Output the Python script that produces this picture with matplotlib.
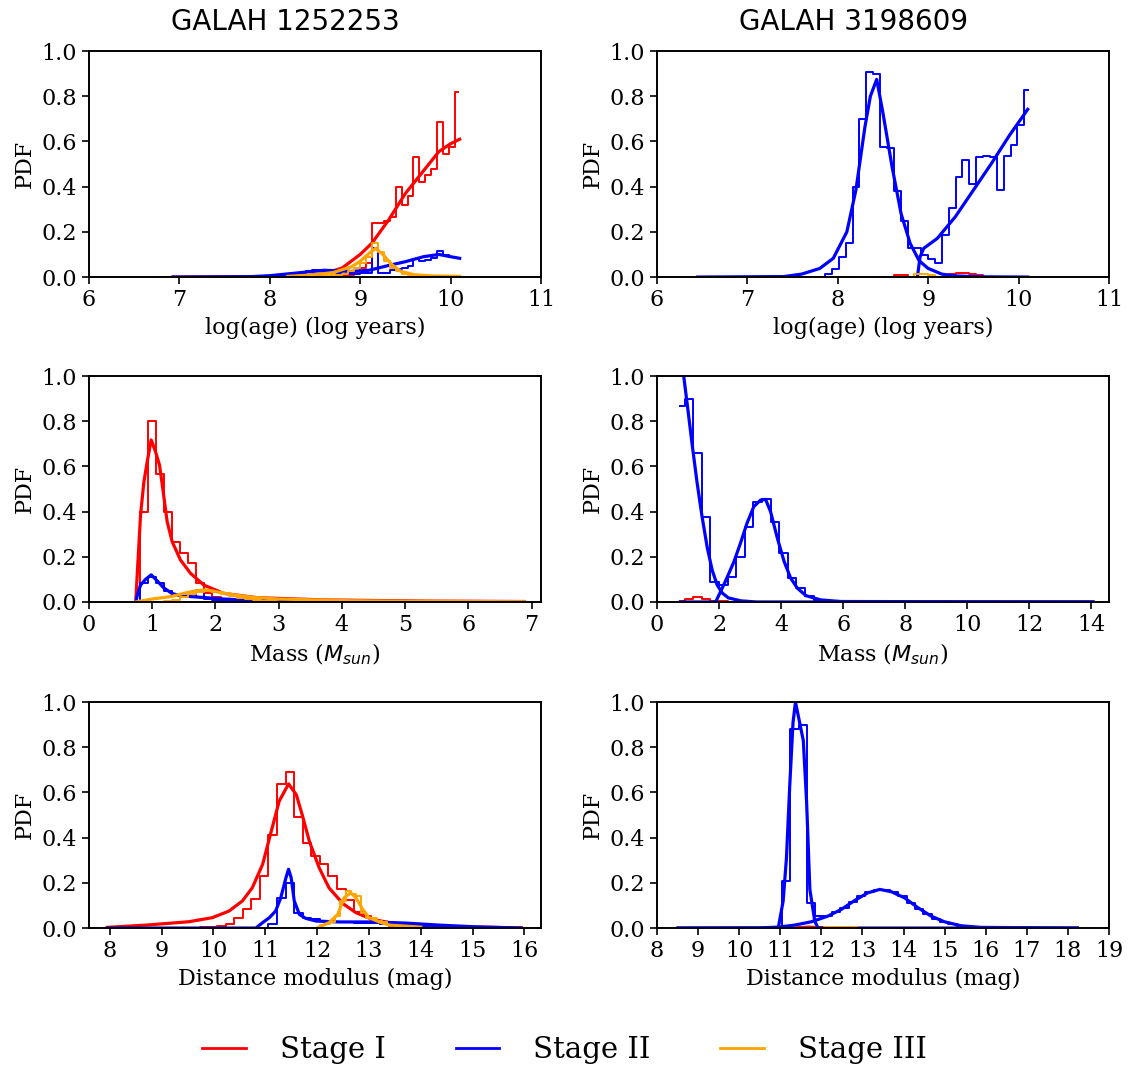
import numpy as np
import matplotlib
matplotlib.use('Agg')
import matplotlib.pyplot as plt
from matplotlib.lines import Line2D

plt.rcParams['font.family'] = 'DejaVu Serif'
plt.rcParams['mathtext.fontset'] = 'dejavusans'

STAGE_COLORS = {'I': 'red', 'II': 'blue', 'III': 'orange'}

# ---------------- GALAH 1252253, log(age) ----------------
age1_centres = (6.925, 10.083, 49)
age1_red_hist = [0] * 29 + [0.005, 0.01, 0.02, 0.04, 0.06, 0.237, 0.237, 0.25, 0.267, 0.397,
                            0.318, 0.36, 0.532, 0.42, 0.45, 0.48, 0.684, 0.544, 0.577, 0.82]
age1_blue_hist = [0] * 18 + [0.003, 0.006, 0.01, 0.015, 0.02, 0.025, 0.03, 0.03, 0.028, 0.025,
                             0.02, 0.015, 0.015, 0.015, 0.018, 0.02, 0.13, 0.02, 0.02, 0.03,
                             0.035, 0.04, 0.05, 0.078, 0.07, 0.075, 0.085, 0.117, 0.097, 0.09,
                             0.085]
age1_orange_hist = [0] * 26 + [0.005, 0.008, 0.01, 0.015, 0.025, 0.04, 0.06, 0.09, 0.15, 0.11,
                               0.07, 0.04, 0.025, 0.015, 0.01, 0.008, 0.005, 0.005, 0.005, 0.005,
                               0.005, 0.005, 0.005]
age1_red_fit_x = [6.93, 8.0, 8.4, 8.6, 8.8, 9.0, 9.13, 9.31, 9.5, 9.68, 9.87, 10.0, 10.1]
age1_red_fit_y = [0, 0.001, 0.006, 0.015, 0.04, 0.1, 0.15, 0.25, 0.37, 0.46, 0.555, 0.59, 0.61]
age1_blue_fit_x = [6.93, 7.8, 8.0, 8.3, 8.6, 8.9, 9.1, 9.3, 9.5, 9.7, 9.87, 10.0, 10.1]
age1_blue_fit_y = [0, 0.002, 0.006, 0.018, 0.03, 0.025, 0.03, 0.05, 0.068, 0.09, 0.1, 0.09, 0.083]
age1_orange_fit_x = [8.2, 8.5, 8.7, 8.9, 9.0, 9.1, 9.17, 9.25, 9.35, 9.45, 9.6, 9.8, 10.1]
age1_orange_fit_y = [0.003, 0.01, 0.02, 0.045, 0.07, 0.105, 0.127, 0.1, 0.055, 0.025, 0.01, 0.005, 0.003]

# ---------------- GALAH 3198609, log(age) ----------------
age2_centres = (6.454, 10.10, 49)
age2_blue_hist = [0] * 19 + [0.013, 0.034, 0.09, 0.149, 0.40, 0.70, 0.908, 0.90, 0.577, 0.572,
                             0.382, 0.25, 0.127, 0.127, 0.097, 0.078, 0.06, 0.186, 0.304, 0.444,
                             0.518, 0.41, 0.532, 0.535, 0.532, 0.385, 0.535, 0.584, 0.673, 0.83]
age2_red_hist = [0] * 29 + [0.01, 0.008, 0, 0, 0, 0, 0, 0, 0.012, 0.02, 0.018, 0.015, 0.008,
                            0, 0, 0, 0, 0, 0, 0]
age2_orange_hist = [0] * 32 + [0.015, 0.015, 0.01] + [0] * 14
age2_blue_fit1_x = [6.45, 7.4, 7.6, 7.8, 7.95, 8.1, 8.2, 8.3, 8.36, 8.43, 8.5, 8.6, 8.7, 8.8,
                    8.9, 9.0, 9.15, 9.3, 9.6, 10.1]
age2_blue_fit1_y = [0, 0.002, 0.013, 0.038, 0.083, 0.2, 0.385, 0.665, 0.80, 0.875, 0.724, 0.488,
                    0.28, 0.149, 0.072, 0.038, 0.013, 0.005, 0.001, 0]
age2_blue_fit2_x = [8.88, 8.91, 8.95, 9.1, 9.3, 9.5, 9.7, 9.9, 10.1]
age2_blue_fit2_y = [0, 0.09, 0.127, 0.171, 0.267, 0.385, 0.503, 0.628, 0.742]

# ---------------- GALAH 1252253, mass ----------------
mass1_centres = (0.737, 6.88, 49)
mass1_red_hist = [0, 0.397, 0.80, 0.565, 0.40, 0.267, 0.215, 0.174, 0.083, 0.04, 0.02, 0.012,
                  0.008, 0.006, 0.005, 0.004, 0.003, 0.003, 0.002, 0.002, 0.001] + [0] * 28
mass1_blue_hist = [0, 0.085, 0.11, 0.085, 0.05, 0.03, 0.02, 0.02, 0.055, 0.015, 0.01, 0.005,
                   0.003] + [0] * 36
mass1_orange_hist = [0, 0, 0, 0, 0.005, 0.01, 0.02, 0.035, 0.045, 0.05, 0.045, 0.035, 0.025,
                     0.018, 0.012, 0.008, 0.005, 0.003] + [0] * 31
mass1_red_fit_x = [0.74, 0.763, 0.816, 0.868, 0.921, 0.984, 1.053, 1.116, 1.174, 1.237, 1.316,
                   1.447, 1.605, 1.816, 2.13, 2.66, 3.71, 5.29, 6.88]
mass1_red_fit_y = [0, 0.12, 0.385, 0.53, 0.62, 0.717, 0.665, 0.606, 0.488, 0.355, 0.267, 0.186,
                   0.127, 0.075, 0.038, 0.019, 0.009, 0.004, 0.002]
mass1_blue_fit_x = [0.74, 0.765, 0.816, 0.895, 0.984, 1.08, 1.18, 1.31, 1.45, 1.6, 1.8, 2.13,
                    2.66, 3.5, 6.88]
mass1_blue_fit_y = [0, 0.03, 0.075, 0.10, 0.12, 0.093, 0.063, 0.038, 0.027, 0.024, 0.02, 0.013,
                    0.006, 0.002, 0]
mass1_orange_fit_x = [0.74, 1.0, 1.3, 1.5, 1.7, 1.85, 2.0, 2.3, 2.6, 3.0, 4.0, 5.0, 6.88]
mass1_orange_fit_y = [0, 0.013, 0.024, 0.038, 0.05, 0.053, 0.046, 0.031, 0.02, 0.013, 0.006,
                      0.003, 0.001]

# ---------------- GALAH 3198609, mass ----------------
mass2_centres = (0.754, 14.05, 49)
mass2_blue_hist = [0.869, 0.898, 0.658, 0.378, 0.09, 0.075, 0.112, 0.2, 0.333, 0.444, 0.456,
                   0.355, 0.218, 0.108, 0.06, 0.027, 0.01, 0.005, 0.002] + [0] * 30
mass2_red_hist = [0.003, 0.012, 0.024, 0.013, 0.006, 0.003, 0.002] + [0] * 42
mass2_blue_fit1_x = [0.754, 0.86, 0.97, 1.13, 1.29, 1.45, 1.62, 1.78, 1.94, 2.1, 2.3, 2.7, 3.2,
                     14.05]
mass2_blue_fit1_y = [1.08, 1.0, 0.88, 0.70, 0.53, 0.38, 0.24, 0.14, 0.075, 0.04, 0.018, 0.005,
                     0, 0]
mass2_blue_fit2_x = [0.754, 1.89, 2.05, 2.2, 2.48, 2.69, 2.9, 3.12, 3.34, 3.5, 3.66, 3.88, 4.1,
                     4.31, 4.53, 4.8, 5.28, 5.93, 14.05]
mass2_blue_fit2_y = [0, 0, 0.046, 0.09, 0.178, 0.26, 0.348, 0.422, 0.451, 0.454, 0.4, 0.282,
                     0.178, 0.105, 0.06, 0.028, 0.009, 0.002, 0]

# ---------------- GALAH 1252253, distance modulus ----------------
dm1_centres = (8.0, 15.944, 49)
dm1_red_hist = [0] * 10 + [0.002, 0.003, 0.005, 0.008, 0.016, 0.046, 0.083, 0.127, 0.23, 0.414,
                           0.638, 0.692, 0.49, 0.377, 0.318, 0.285, 0.23, 0.171, 0.122, 0.07,
                           0.053, 0.031, 0.019, 0.01, 0.006, 0.004, 0.003, 0.002] + [0] * 11
dm1_blue_hist = [0] * 19 + [0.02, 0.134, 0.2, 0.068, 0.045, 0.038, 0.03, 0.028, 0.027, 0.025,
                            0.024, 0.023, 0.022, 0.02, 0.018, 0.016, 0.013, 0.01, 0.008, 0.006,
                            0.004, 0.003, 0.002] + [0] * 7
dm1_orange_centres = (12.0, 13.4, 15)
dm1_orange_hist = [0, 0.012, 0.018, 0.025, 0.053, 0.12, 0.164, 0.15, 0.142, 0.068, 0.046,
                   0.046, 0.031, 0.025, 0.015]
dm1_red_fit_x = [7.955, 8.7, 9.53, 9.98, 10.3, 10.56, 10.75, 10.95, 11.1, 11.27, 11.45, 11.6,
                 11.72, 11.85, 12.04, 12.23, 12.5, 12.75, 13.07, 13.52, 14.04, 15.0, 15.94]
dm1_red_fit_y = [0.003, 0.013, 0.028, 0.046, 0.075, 0.12, 0.178, 0.282, 0.414, 0.562, 0.638,
                 0.59, 0.496, 0.385, 0.267, 0.178, 0.108, 0.068, 0.038, 0.019, 0.01, 0.004, 0.001]
dm1_blue_fit_x = [7.955, 10.82, 10.95, 11.08, 11.2, 11.3, 11.4, 11.45, 11.5, 11.56, 11.66, 11.78,
                  11.98, 12.43, 13.07, 13.71, 14.36, 15.0, 15.94]
dm1_blue_fit_y = [0, 0, 0.024, 0.046, 0.075, 0.134, 0.223, 0.26, 0.223, 0.12, 0.06, 0.043,
                  0.031, 0.027, 0.027, 0.022, 0.013, 0.006, 0]
dm1_orange_fit_x = [12.0, 12.23, 12.4, 12.52, 12.65, 12.75, 12.88, 13.0, 13.2, 13.4, 14.0]
dm1_orange_fit_y = [0, 0.024, 0.06, 0.134, 0.156, 0.134, 0.083, 0.046, 0.027, 0.013, 0.004]

# ---------------- GALAH 3198609, distance modulus ----------------
dm2_centres = (8.51, 18.23, 49)
dm2_blue_hist = [0] * 12 + [0.005, 0.208, 0.879, 0.898, 0.112, 0.053, 0.053, 0.072, 0.09, 0.115,
                            0.14, 0.158, 0.168, 0.168, 0.158, 0.14, 0.112, 0.085, 0.06, 0.04,
                            0.028, 0.018, 0.01, 0.005, 0.003, 0.002] + [0] * 11
dm2_red_hist = [0] * 15 + [0.003, 0.005, 0.003] + [0] * 31
dm2_orange_hist = [0] * 18 + [0.003, 0.004, 0.004, 0.003] + [0] * 27
dm2_blue_fit1_x = [8.51, 10.95, 11.07, 11.15, 11.23, 11.31, 11.37, 11.56, 11.64, 11.72, 11.84,
                   11.92, 18.23]
dm2_blue_fit1_y = [0, 0, 0.12, 0.31, 0.63, 0.91, 1.0, 0.83, 0.56, 0.17, 0.03, 0, 0]
dm2_blue_fit2_x = [8.51, 10.5, 10.95, 11.35, 11.76, 12.16, 12.49, 12.81, 13.13, 13.42, 13.7,
                   14.02, 14.35, 14.67, 14.99, 15.4, 15.88, 18.23]
dm2_blue_fit2_y = [0, 0.001, 0.004, 0.013, 0.028, 0.053, 0.083, 0.122, 0.156, 0.171, 0.161,
                   0.134, 0.09, 0.053, 0.028, 0.01, 0.003, 0]
dm2_red_fit_x = [11.4, 11.7, 12.0]
dm2_red_fit_y = [0.001, 0.004, 0.001]


def centres(spec):
    lo, hi, n = spec
    return np.linspace(lo, hi, n)


def draw_hist(ax, spec, heights, color):
    ax.step(centres(spec), heights, where='mid', color=color, lw=1.4)


def draw_fit(ax, xs, ys, color):
    ax.plot(xs, ys, color=color, lw=2.3)


fig = plt.figure(figsize=(11.45, 10.78), dpi=100)
lefts = [0.0777, 0.5738]
bottoms = [0.7430, 0.4416, 0.1391]
axes = [[fig.add_axes([l, b, 0.3948, 0.2096]) for l in lefts] for b in bottoms]

# row 1: age
ax = axes[0][0]
draw_hist(ax, age1_centres, age1_red_hist, 'red')
draw_fit(ax, age1_red_fit_x, age1_red_fit_y, 'red')
draw_hist(ax, age1_centres, age1_blue_hist, 'blue')
draw_fit(ax, age1_blue_fit_x, age1_blue_fit_y, 'blue')
draw_hist(ax, age1_centres, age1_orange_hist, 'orange')
draw_fit(ax, age1_orange_fit_x, age1_orange_fit_y, 'orange')

ax = axes[0][1]
draw_hist(ax, age2_centres, age2_red_hist, 'red')
draw_hist(ax, age2_centres, age2_blue_hist, 'blue')
draw_fit(ax, age2_blue_fit1_x, age2_blue_fit1_y, 'blue')
draw_fit(ax, age2_blue_fit2_x, age2_blue_fit2_y, 'blue')
draw_hist(ax, age2_centres, age2_orange_hist, 'orange')

for ax in axes[0]:
    ax.set_xlim(6, 11)
    ax.set_xlabel('log(age) (log years)')

# row 2: mass
ax = axes[1][0]
draw_hist(ax, mass1_centres, mass1_red_hist, 'red')
draw_fit(ax, mass1_red_fit_x, mass1_red_fit_y, 'red')
draw_hist(ax, mass1_centres, mass1_blue_hist, 'blue')
draw_fit(ax, mass1_blue_fit_x, mass1_blue_fit_y, 'blue')
draw_hist(ax, mass1_centres, mass1_orange_hist, 'orange')
draw_fit(ax, mass1_orange_fit_x, mass1_orange_fit_y, 'orange')
ax.set_xlim(0, 7.15)
ax.set_xticks(np.arange(0, 8, 1))

ax = axes[1][1]
draw_hist(ax, mass2_centres, mass2_red_hist, 'red')
draw_hist(ax, mass2_centres, mass2_blue_hist, 'blue')
draw_fit(ax, mass2_blue_fit1_x, mass2_blue_fit1_y, 'blue')
draw_fit(ax, mass2_blue_fit2_x, mass2_blue_fit2_y, 'blue')
ax.set_xlim(0, 14.57)
ax.set_xticks(np.arange(0, 15, 2))

for ax in axes[1]:
    ax.set_xlabel('Mass ($M_{sun}$)')

# row 3: distance modulus
ax = axes[2][0]
draw_hist(ax, dm1_centres, dm1_red_hist, 'red')
draw_fit(ax, dm1_red_fit_x, dm1_red_fit_y, 'red')
draw_hist(ax, dm1_centres, dm1_blue_hist, 'blue')
draw_fit(ax, dm1_blue_fit_x, dm1_blue_fit_y, 'blue')
draw_hist(ax, dm1_orange_centres, dm1_orange_hist, 'orange')
draw_fit(ax, dm1_orange_fit_x, dm1_orange_fit_y, 'orange')
ax.set_xlim(7.6, 16.32)
ax.set_xticks(np.arange(8, 17, 1))

ax = axes[2][1]
draw_hist(ax, dm2_centres, dm2_red_hist, 'red')
draw_fit(ax, dm2_red_fit_x, dm2_red_fit_y, 'red')
draw_hist(ax, dm2_centres, dm2_blue_hist, 'blue')
draw_fit(ax, dm2_blue_fit1_x, dm2_blue_fit1_y, 'blue')
draw_fit(ax, dm2_blue_fit2_x, dm2_blue_fit2_y, 'blue')
draw_hist(ax, dm2_centres, dm2_orange_hist, 'orange')
ax.set_xlim(8, 19)
ax.set_xticks(np.arange(8, 20, 1))

for ax in axes[2]:
    ax.set_xlabel('Distance modulus (mag)')

for row in axes:
    for ax in row:
        ax.set_ylim(0, 1)
        ax.set_yticks(np.arange(0, 1.01, 0.2))
        ax.set_ylabel('PDF', fontsize=16)
        ax.xaxis.label.set_fontsize(16)
        ax.tick_params(labelsize=16, length=5, width=1.2)
        for s in ax.spines.values():
            s.set_linewidth(1.4)

# titles sit a little left of the axes centre in the original
axes[0][0].set_title('GALAH 1252253', family='DejaVu Sans', fontsize=20, pad=15, x=0.434)
axes[0][1].set_title('GALAH 3198609', family='DejaVu Sans', fontsize=20, pad=15, x=0.434)

handles = [Line2D([], [], color=c, lw=2.0) for c in STAGE_COLORS.values()]
labels = ['Stage ' + k for k in STAGE_COLORS]
fig.legend(handles, labels, loc='center', bbox_to_anchor=(0.493, 0.026), ncol=3,
           frameon=False, fontsize=21, handlelength=1.5, handletextpad=1.15,
           columnspacing=2.4)

fig.savefig('out.png', dpi=100)
